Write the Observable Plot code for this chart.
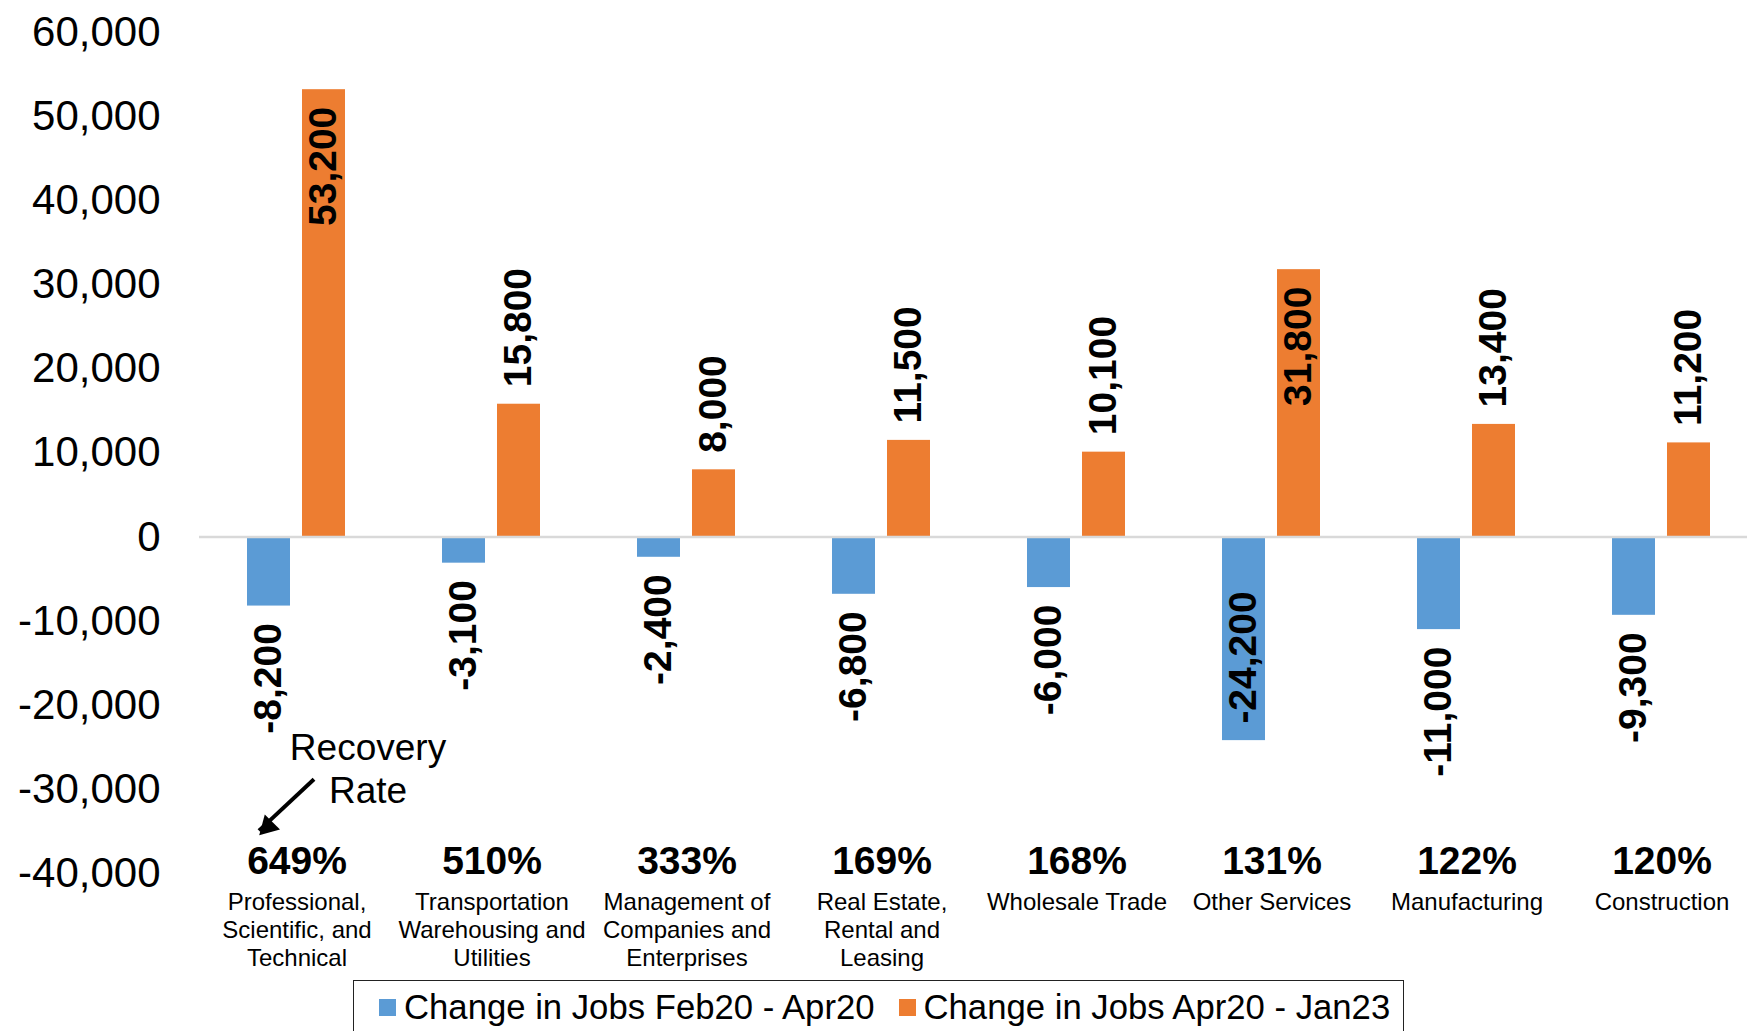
<!DOCTYPE html>
<html><head><meta charset="utf-8">
<script src="https://cdn.jsdelivr.net/npm/d3@7"></script>
<script src="https://cdn.jsdelivr.net/npm/@observablehq/plot@0.6"></script>
<style>
html,body{margin:0;padding:0;background:#fff;overflow:hidden;width:1747px;height:1031px}
#chart{position:absolute;left:0;top:0;width:1761px}
#chart svg{display:block;max-width:none !important;width:1761px;height:975px}
.legend{position:absolute;left:353px;top:980px;width:1051px;height:80px;border:1.5px solid #222;box-sizing:border-box;display:flex;align-items:flex-start;font-family:"Liberation Sans",Arial,sans-serif;font-size:34.7px;line-height:40px;color:#000;padding-left:25px;padding-top:6px}
.item{display:flex;align-items:center;margin-right:24px;white-space:nowrap}
.sw{width:17px;height:17px;margin-right:8px;flex:none}
</style></head><body>
<div id="chart"></div>
<div class="legend" id="legend"></div>
<script>
const categories = [
  "Professional, Scientific, and Technical",
  "Transportation Warehousing and Utilities",
  "Management of Companies and Enterprises",
  "Real Estate, Rental and Leasing",
  "Wholesale Trade",
  "Other Services",
  "Manufacturing",
  "Construction"
];
const categoryLabels = [
  "Professional,\nScientific, and\nTechnical",
  "Transportation\nWarehousing and\nUtilities",
  "Management of\nCompanies and\nEnterprises",
  "Real Estate,\nRental and\nLeasing",
  "Wholesale Trade",
  "Other Services",
  "Manufacturing",
  "Construction"
];
const seriesNames = ["Change in Jobs Feb20 - Apr20", "Change in Jobs Apr20 - Jan23"];
const jobsFeb20Apr20 = [-8200, -3100, -2400, -6800, -6000, -24200, -11000, -9300];
const jobsApr20Jan23 = [53200, 15800, 8000, 11500, 10100, 31800, 13400, 11200];
const recoveryRate = [649, 510, 333, 169, 168, 131, 122, 120];
const yTicks = [-40000, -30000, -20000, -10000, 0, 10000, 20000, 30000, 40000, 50000, 60000];
const seriesColors = ["#5B9BD5", "#ED7D31"];
const annotationText = "Recovery\nRate";

const rows = categories.flatMap((c, i) => [
  {category: c, series: seriesNames[0], value: jobsFeb20Apr20[i]},
  {category: c, series: seriesNames[1], value: jobsApr20Jan23[i]}
]);
const rateRows = categories.map((c, i) => ({category: c, rate: recoveryRate[i]}));
const fmt = v => v.toLocaleString("en-US");
const inside = d => Math.abs(d.value) > 20000;
const upLabels = rows.filter(d => (d.value > 0) !== inside(d));
const downLabels = rows.filter(d => (d.value > 0) === inside(d));

const annotation = [{category: categories[0], from: seriesNames[1], to: seriesNames[0], yText: -27400, y1: -28800, y2: -34900, yHead: -34400}];

const font = "'Liberation Sans', Arial, sans-serif";

const chart = Plot.plot({
  width: 1761, height: 975,
  marginLeft: 196, marginRight: 0, marginTop: 32, marginBottom: 102,
  style: {fontFamily: font, color: "#000", background: "#fff", maxWidth: "none"},
  fx: {domain: categories, padding: 0},
  x: {domain: seriesNames, paddingInner: 0.2143, paddingOuter: 0.8545, axis: null},
  y: {domain: [-40000, 60000]},
  color: {domain: seriesNames, range: seriesColors},
  marks: [
    Plot.barY(rows, {fx: "category", x: "series", y: "value", fill: "series"}),
    Plot.ruleY([0], {stroke: "#d9d9d9", strokeWidth: 2.5}),
    Plot.text(upLabels, {fx: "category", x: "series", y: "value", text: d => fmt(d.value), rotate: -90, textAnchor: "start", lineAnchor: "middle", dy: -17, fontSize: 39, fontWeight: "bold", fill: "#000"}),
    Plot.text(downLabels, {fx: "category", x: "series", y: "value", text: d => fmt(d.value), rotate: -90, textAnchor: "end", lineAnchor: "middle", dy: 17, fontSize: 39, fontWeight: "bold", fill: "#000"}),
    Plot.text(rateRows, {fx: "category", text: d => d.rate + "%", frameAnchor: "bottom", lineAnchor: "middle", dy: -12, fontSize: 39, fontWeight: "bold", fill: "#000"}),
    Plot.axisY({ticks: yTicks, tickSize: 0, tickPadding: 39, fontSize: 42, tickFormat: fmt, label: null}),
    Plot.axisFx({anchor: "bottom", tickSize: 0, tickPadding: 17, fontSize: 24, lineHeight: 1.16, tickFormat: d => categoryLabels[categories.indexOf(d)], label: null}),
    Plot.text(annotation, {fx: "category", x: "from", y: "yText", text: () => annotationText, dx: 44, fontSize: 37, lineHeight: 1.16, fill: "#000"}),
    Plot.link(annotation, {fx: "category", x1: "from", x2: "to", y1: "y1", y2: "y2", dx: -10, stroke: "#000", strokeWidth: 4}),
    Plot.dot(annotation, {fx: "category", x: "to", y: "yHead", dx: -1, symbol: "triangle", r: 8, rotate: 225, fill: "#000", stroke: "none"})
  ]
});
document.getElementById("chart").appendChild(chart);

const legend = document.getElementById("legend");
seriesNames.forEach((name, i) => {
  const item = document.createElement("div");
  item.className = "item";
  const sw = document.createElement("span");
  sw.className = "sw";
  sw.style.background = seriesColors[i];
  const label = document.createElement("span");
  label.textContent = name;
  item.appendChild(sw);
  item.appendChild(label);
  legend.appendChild(item);
});
</script>
</body></html>
